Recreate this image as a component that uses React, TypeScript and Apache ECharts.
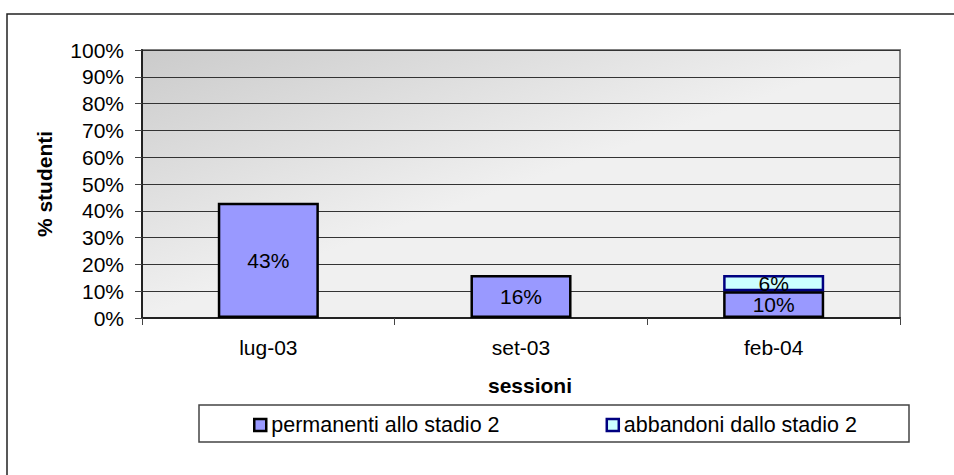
import React, { useEffect, useRef } from "react";
import * as echarts from "echarts";

const categories = ["lug-03", "set-03", "feb-04"];
const permanenti = [43, 16, 10];
const abbandoni = [null, null, 6];
const seriesNames = ["permanenti allo stadio 2", "abbandoni dallo stadio 2"];
const yTicks = { min: 0, max: 100, interval: 10 };

const FONT = '"Liberation Sans", Arial, sans-serif';

export default function App() {
  const ref = useRef<HTMLDivElement>(null);
  useEffect(() => {
    if (!ref.current) return;
    const chart = echarts.init(ref.current, null, { renderer: "svg" });
    const labelStyle = {
      show: true,
      position: "inside",
      color: "#000",
      fontSize: 21,
      fontFamily: FONT,
      formatter: "{c}%",
    };
    chart.setOption({
      animation: false,
      backgroundColor: "#ffffff",
      textStyle: { fontFamily: FONT },
      grid: {
        left: 142,
        top: 50,
        right: 54,
        bottom: 157,
        show: true,
        borderColor: "#808080",
        borderWidth: 2,
        backgroundColor: {
          type: "linear",
          global: true,
          x: 142,
          y: 50,
          x2: 142 + 84,
          y2: 50 + 238,
          colorStops: [
            { offset: 0, color: "#cbcbcb" },
            { offset: 1, color: "#f0f0f0" },
          ],
        },
      },
      legend: {
        data: [
          { name: seriesNames[0], itemStyle: { color: "#9999ff", borderColor: "#000", borderWidth: 2.5 } },
          { name: seriesNames[1], itemStyle: { color: "#ccffff", borderColor: "#000080", borderWidth: 2.5 } },
        ],
        left: 253,
        top: 414,
        padding: 0,
        itemWidth: 12,
        itemHeight: 12,
        itemGap: 106,
        icon: "rect",
        textStyle: { fontSize: 21.5, fontFamily: FONT, color: "#000" },
      },
      xAxis: {
        type: "category",
        data: categories,
        boundaryGap: true,
        name: "sessioni",
        nameLocation: "middle",
        nameGap: 57,
        nameTextStyle: {
          fontSize: 21,
          fontWeight: "bold",
          color: "#000",
          fontFamily: FONT,
          padding: [0, 0, 0, 18],
        },
        axisLine: { show: true, lineStyle: { color: "#222", width: 2 } },
        axisTick: { show: true, length: 7, lineStyle: { color: "#444", width: 1 } },
        axisLabel: { fontSize: 21, color: "#000", margin: 19, fontFamily: FONT },
        splitLine: { show: false },
        z: 5,
      },
      yAxis: {
        type: "value",
        min: yTicks.min,
        max: yTicks.max,
        interval: yTicks.interval,
        name: "% studenti",
        nameLocation: "middle",
        nameGap: 87,
        nameRotate: 90,
        nameTextStyle: { fontSize: 21, fontWeight: "bold", color: "#000", fontFamily: FONT },
        axisLine: { show: true, lineStyle: { color: "#222", width: 2 } },
        axisTick: { show: true, length: 7, lineStyle: { color: "#444", width: 1 } },
        axisLabel: { fontSize: 21, color: "#000", margin: 18, formatter: "{value}%", fontFamily: FONT },
        splitLine: { show: true, lineStyle: { color: "#333", width: 1 } },
        z: 5,
      },
      series: [
        {
          name: seriesNames[0],
          type: "bar",
          stack: "tot",
          barWidth: "40%",
          data: permanenti,
          itemStyle: { color: "#9999ff", borderColor: "#000", borderWidth: 2.5 },
          label: labelStyle,
          z: 6,
        },
        {
          name: seriesNames[1],
          type: "bar",
          stack: "tot",
          barWidth: "40%",
          data: abbandoni,
          itemStyle: { color: "#ccffff", borderColor: "#000080", borderWidth: 2.5 },
          label: labelStyle,
          z: 6,
        },
      ],
      graphic: [
        {
          type: "polyline",
          shape: { points: [[7, 475], [7, 14], [954, 14]] },
          style: { stroke: "#222", lineWidth: 1.5, fill: "none" },
          z: 10,
        },
        {
          type: "rect",
          shape: { x: 199, y: 405, width: 710, height: 37 },
          style: { stroke: "#444", lineWidth: 1.5, fill: "none" },
          z: 1,
        },
      ],
    });
    return () => chart.dispose();
  }, []);
  return (
    <div
      ref={ref}
      style={{ position: "absolute", left: 0, top: 0, width: 954, height: 475 }}
    />
  );
}
